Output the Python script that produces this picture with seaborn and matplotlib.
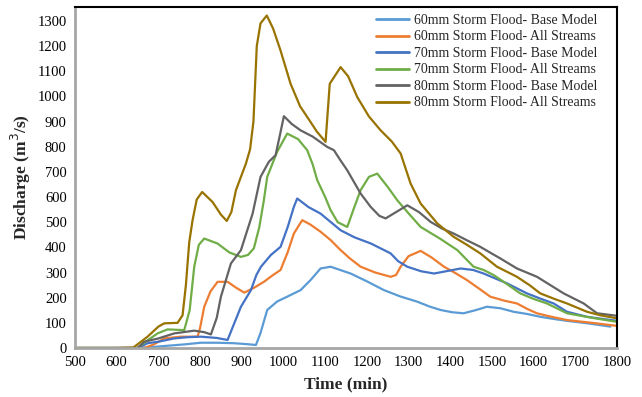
import matplotlib
matplotlib.use("Agg")
import matplotlib.pyplot as plt
import seaborn as sns
import pandas as pd

series_names = [
    "60mm Storm Flood- Base Model",
    "60mm Storm Flood- All Streams",
    "70mm Storm Flood- Base Model",
    "70mm Storm Flood- All Streams",
    "80mm Storm Flood- Base Model",
    "80mm Storm Flood- All Streams",
]
colors = ["#5B9BD5", "#ED7D31", "#4472C4", "#70AD47", "#636363", "#997300"]

t60_base = [500, 600, 650, 680, 722, 760, 802, 840, 882, 915, 934, 945, 961, 985, 1009, 1041, 1065, 1089, 1113, 1161, 1200, 1241, 1280, 1321, 1350, 1377, 1405, 1432, 1460, 1488, 1520, 1552, 1585, 1616, 1650, 1680, 1730, 1784]
q60_base = [0, 0, 0, 3, 9, 14, 21, 21, 19, 15, 12, 60, 151, 185, 204, 230, 270, 316, 323, 296, 265, 230, 205, 184, 165, 151, 142, 138, 150, 164, 158, 144, 135, 124, 115, 108, 98, 85]

t60_all = [500, 650, 670, 690, 714, 754, 794, 800, 810, 825, 842, 866, 886, 906, 930, 953, 975, 993, 1010, 1025, 1045, 1065, 1089, 1113, 1137, 1160, 1185, 1220, 1257, 1270, 1281, 1300, 1329, 1355, 1385, 1410, 1440, 1470, 1496, 1530, 1560, 1585, 1608, 1640, 1680, 1740, 1800]
q60_all = [0, 0, 2, 15, 38, 45, 45, 80, 164, 225, 263, 263, 240, 220, 240, 263, 290, 310, 380, 455, 508, 490, 462, 429, 389, 355, 323, 300, 283, 290, 323, 365, 386, 360, 323, 300, 270, 235, 204, 188, 177, 155, 138, 125, 111, 100, 88]

t70_base = [500, 650, 674, 700, 738, 770, 802, 840, 866, 880, 898, 922, 935, 946, 970, 993, 1010, 1025, 1033, 1060, 1089, 1113, 1137, 1170, 1210, 1257, 1275, 1297, 1330, 1361, 1390, 1425, 1455, 1480, 1510, 1536, 1560, 1584, 1615, 1648, 1680, 1728, 1800]
q70_base = [0, 0, 19, 25, 38, 43, 45, 40, 32, 90, 164, 230, 290, 323, 370, 402, 480, 561, 594, 560, 534, 501, 468, 440, 415, 376, 345, 323, 305, 296, 305, 316, 310, 296, 275, 257, 237, 217, 197, 177, 144, 124, 108]

t70_all = [500, 650, 665, 698, 722, 762, 775, 786, 797, 810, 842, 870, 898, 915, 929, 942, 953, 961, 985, 1009, 1035, 1057, 1070, 1081, 1100, 1113, 1130, 1153, 1170, 1185, 1205, 1225, 1250, 1273, 1300, 1329, 1375, 1417, 1440, 1456, 1480, 1504, 1535, 1568, 1600, 1632, 1680, 1740, 1800]
q70_all = [0, 0, 20, 58, 74, 71, 150, 323, 410, 435, 415, 380, 362, 370, 396, 480, 587, 680, 780, 852, 830, 786, 730, 667, 600, 548, 500, 481, 560, 627, 680, 693, 640, 587, 535, 481, 435, 389, 350, 323, 310, 290, 255, 217, 195, 177, 138, 120, 104]

t80_base = [500, 650, 666, 700, 738, 786, 810, 826, 840, 850, 874, 898, 926, 945, 965, 981, 992, 1001, 1020, 1041, 1070, 1105, 1121, 1135, 1153, 1185, 1209, 1230, 1245, 1270, 1297, 1325, 1353, 1380, 1408, 1440, 1472, 1500, 1520, 1560, 1608, 1640, 1672, 1720, 1752, 1800]
q80_base = [0, 0, 25, 38, 58, 69, 63, 54, 120, 204, 336, 389, 534, 680, 740, 766, 850, 921, 890, 865, 840, 799, 786, 750, 706, 614, 561, 525, 515, 540, 567, 540, 501, 475, 455, 428, 402, 375, 356, 316, 283, 250, 217, 177, 138, 128]

t80_all = [500, 600, 640, 674, 700, 714, 746, 758, 766, 774, 782, 792, 805, 830, 850, 864, 875, 886, 910, 920, 928, 936, 945, 960, 975, 993, 1017, 1040, 1057, 1080, 1101, 1111, 1137, 1155, 1177, 1205, 1233, 1260, 1281, 1305, 1329, 1369, 1408, 1440, 1472, 1512, 1560, 1590, 1616, 1650, 1680, 1728, 1760, 1800]
q80_all = [0, 0, 2, 45, 85, 98, 100, 130, 250, 420, 508, 590, 620, 580, 530, 505, 540, 627, 733, 790, 900, 1200, 1290, 1321, 1270, 1182, 1050, 960, 918, 860, 819, 1050, 1116, 1080, 997, 920, 865, 820, 773, 653, 574, 495, 442, 410, 376, 323, 283, 250, 217, 195, 177, 144, 130, 118]

x_ticks = list(range(500, 1801, 100))
y_ticks = list(range(0, 1301, 100))

all_t = [t60_base, t60_all, t70_base, t70_all, t80_base, t80_all]
all_q = [q60_base, q60_all, q70_base, q70_all, q80_base, q80_all]
frames = []
for name, t, q in zip(series_names, all_t, all_q):
    frames.append(pd.DataFrame({"Time": t, "Discharge": q, "Series": name}))
df = pd.concat(frames, ignore_index=True)

sns.set_style("white")
plt.rcParams["font.family"] = ["Liberation Serif", "DejaVu Serif"]

fig = plt.figure(figsize=(6.42, 3.97), dpi=100)
ax = fig.add_axes([0.1168, 0.1234, 0.8443, 0.859])

sns.lineplot(data=df, x="Time", y="Discharge", hue="Series", hue_order=series_names,
             palette=colors, estimator=None, sort=True, linewidth=1.6, ax=ax)
for ln in ax.get_lines():
    ln.set_solid_joinstyle("round")
    ln.set_solid_capstyle("round")

ax.set_xlim(500, 1800)
ax.set_ylim(0, 1355)
ax.set_xticks(x_ticks)
ax.set_yticks(y_ticks)
ax.tick_params(axis="both", labelsize=10.5, length=0, pad=6, colors="black")
ax.set_xlabel("Time (min)", fontsize=12.5, fontweight="bold", labelpad=5)
ax.set_ylabel("Discharge (m$^3$/s)", fontsize=12.5, fontweight="bold", labelpad=3)

for s in ["left", "bottom"]:
    ax.spines[s].set_color("#A6A6A6")
    ax.spines[s].set_linewidth(2.0)
for s in ["top", "right"]:
    ax.spines[s].set_color("black")
    ax.spines[s].set_linewidth(1.5)

leg = ax.legend(loc="upper right", bbox_to_anchor=(0.985, 1.012), frameon=False,
                fontsize=10, handlelength=2.4, handletextpad=0.4, labelspacing=0.25,
                borderpad=0.3)
for line in leg.get_lines():
    line.set_linewidth(2.0)

fig.savefig("out.png", dpi=100)
